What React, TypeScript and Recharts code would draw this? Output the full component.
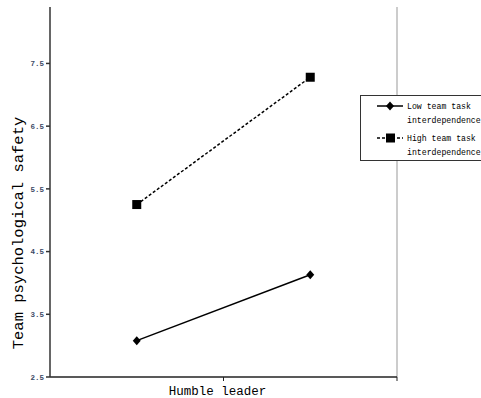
import { LineChart, Line, XAxis, YAxis, ReferenceLine } from 'recharts'

const humbleLevels = [0.25, 0.75]
const lowInterdependence = [3.08, 4.13]
const highInterdependence = [5.25, 7.28]
const yTicks = [2.5, 3.5, 4.5, 5.5, 6.5, 7.5]

const data = humbleLevels.map((x, i) => ({
  x,
  low: lowInterdependence[i],
  high: highInterdependence[i],
}))

const mono = '"Liberation Mono", "DejaVu Sans Mono", monospace'

function Diamond(props: any) {
  const { cx, cy } = props
  if (cx == null || cy == null) return null
  return <path d={`M${cx},${cy - 4.5}L${cx + 4},${cy}L${cx},${cy + 4.5}L${cx - 4},${cy}Z`} fill="#000" />
}

function Square(props: any) {
  const { cx, cy } = props
  if (cx == null || cy == null) return null
  return <rect x={cx - 4.5} y={cy - 4.5} width={9} height={9} fill="#000" />
}

function LegendBox() {
  const row = (dash: boolean, square: boolean, label: string) => (
    <div style={{ display: 'flex', alignItems: 'flex-start', marginBottom: 4 }}>
      <svg width={30} height={12} style={{ flex: 'none' }}>
        <line x1={2} y1={6} x2={28} y2={6} stroke="#000" strokeWidth={1.5} strokeDasharray={dash ? '3 2' : undefined} />
        {square ? <rect x={11} y={1.5} width={9} height={9} fill="#000" /> : <path d="M15,1.5L19,6L15,10.5L11,6Z" fill="#000" />}
      </svg>
      <div style={{ marginLeft: 2, lineHeight: '14px' }}>{label.split('\n').map((s) => <div key={s}>{s}</div>)}</div>
    </div>
  )
  return (
    <div
      style={{
        position: 'absolute',
        left: 360,
        top: 95,
        border: '1px solid #333',
        background: '#fff',
        padding: '4px 0 0 14px',
        width: 140,
        height: 66,
        fontFamily: mono,
        fontSize: 8.2,
        color: '#000',
        boxSizing: 'border-box',
      }}
    >
      {row(false, false, 'Low team task\ninterdependence')}
      {row(true, true, 'High team task\ninterdependence')}
    </div>
  )
}

function YLabel() {
  return (
    <text x={23} y={233} transform="rotate(-90, 23, 233)" textAnchor="middle" fontFamily={mono} fontSize={15.5} fill="#000">
      Team psychological safety
    </text>
  )
}

export default function App() {
  return (
    <div style={{ position: 'absolute', left: 0, top: 0, width: 481, height: 398, background: '#fff', overflow: 'hidden' }}>
      <LineChart width={481} height={398} data={data} margin={{ top: 7, right: 84, bottom: 1, left: 0 }}>
        <XAxis
          type="number"
          dataKey="x"
          domain={[0, 1]}
          ticks={[0.5, 1]}
          tick={{ fontSize: 0 }}
          tickFormatter={() => ''}
          tickLine={{ stroke: '#222', strokeWidth: 1 }}
          tickSize={4}
          height={20}
          stroke="#222"
          strokeWidth={1.5}
          label={{ value: 'Humble leader', position: 'insideBottom', offset: 2, dx: -6, fontFamily: mono, fontSize: 12.5, fill: '#000' }}
        />
        <YAxis
          type="number"
          domain={[2.5, 8.4]}
          ticks={yTicks}
          width={50}
          tickSize={4}
          stroke="#333"
          strokeWidth={1.5}
          tick={{ fontFamily: mono, fontSize: 7.5, fontWeight: 'bold', fill: '#3c4a66' }}
          tickFormatter={(v: number) => v.toFixed(1)}
          label={<YLabel />}
        />
        <ReferenceLine x={1} stroke="#999" strokeWidth={1} />
        <Line dataKey="low" stroke="#000" strokeWidth={1.5} dot={<Diamond />} activeDot={false} isAnimationActive={false} />
        <Line dataKey="high" stroke="#000" strokeWidth={1.5} strokeDasharray="3 2" dot={<Square />} activeDot={false} isAnimationActive={false} />
      </LineChart>
      <LegendBox />
    </div>
  )
}
